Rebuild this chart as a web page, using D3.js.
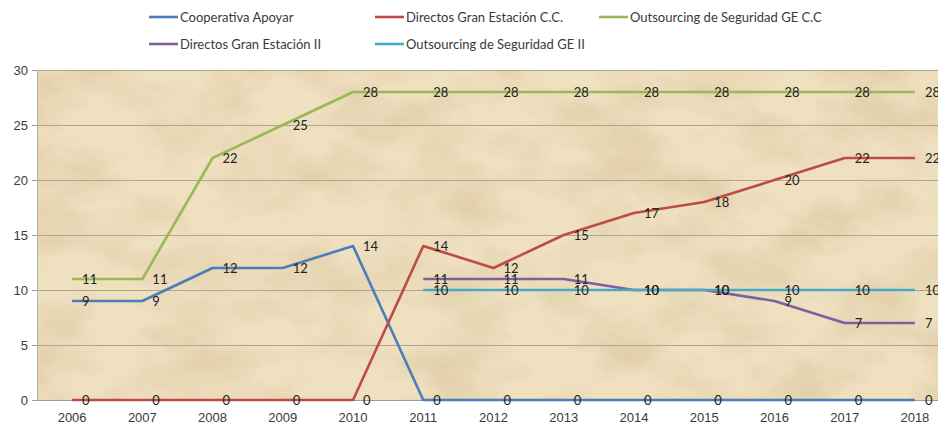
<!DOCTYPE html>
<html>
<head>
<meta charset="utf-8">
<script src="https://cdn.jsdelivr.net/npm/d3@7"></script>
<style>
  body { margin: 0; background: #fff; }
  svg { display: block; font-family: Lato, "Noto Sans", sans-serif; }
</style>
</head>
<body>
<script>
const years = [2006, 2007, 2008, 2009, 2010, 2011, 2012, 2013, 2014, 2015, 2016, 2017, 2018];
const yTicks = [0, 5, 10, 15, 20, 25, 30];

const cooperativaApoyar = [9, 9, 12, 12, 14, 0, 0, 0, 0, 0, 0, 0, 0];
const directosGranCC = [0, 0, 0, 0, 0, 14, 12, 15, 17, 18, 20, 22, 22];
const outsourcingCC = [11, 11, 22, 25, 28, 28, 28, 28, 28, 28, 28, 28, 28];
const directosGranII = [null, null, null, null, null, 11, 11, 11, 10, 10, 9, 7, 7];
const outsourcingII = [null, null, null, null, null, 10, 10, 10, 10, 10, 10, 10, 10];

const seriesNames = [
  'Cooperativa Apoyar',
  'Directos Gran Estación C.C.',
  'Outsourcing de Seguridad GE C.C',
  'Directos Gran Estación II',
  'Outsourcing de Seguridad GE II'
];
const seriesValues = [cooperativaApoyar, directosGranCC, outsourcingCC, directosGranII, outsourcingII];
const seriesColors = ['#4A7EBB', '#BE4B48', '#98B954', '#7D60A0', '#46AAC5'];

const width = 938, height = 428;
const plot = { left: 37, right: 950, top: 70, bottom: 400 };

const svg = d3.select('body')
  .append('svg')
  .attr('width', width)
  .attr('height', height);

// parchment texture
const defs = svg.append('defs');
const filter = defs.append('filter')
  .attr('id', 'parchment')
  .attr('x', 0).attr('y', 0).attr('width', 1).attr('height', 1);
filter.append('feTurbulence')
  .attr('type', 'fractalNoise')
  .attr('baseFrequency', '0.012 0.02')
  .attr('numOctaves', 5)
  .attr('seed', 7)
  .attr('result', 'noise');
filter.append('feColorMatrix')
  .attr('in', 'noise')
  .attr('type', 'matrix')
  .attr('values', '0 0 0 0 0.72  0 0 0 0 0.58  0 0 0 0 0.36  1.6 0 0 0 -0.62');

const xScale = d3.scaleBand()
  .domain(years)
  .range([plot.left, plot.right])
  .paddingInner(0)
  .paddingOuter(0);
const xPos = y => xScale(y) + xScale.bandwidth() / 2;

const yScale = d3.scaleLinear()
  .domain([0, 30])
  .range([plot.bottom, plot.top]);

svg.append('rect')
  .attr('x', plot.left).attr('y', plot.top)
  .attr('width', plot.right - plot.left).attr('height', plot.bottom - plot.top)
  .attr('fill', '#EFE0C0');
svg.append('rect')
  .attr('x', plot.left).attr('y', plot.top)
  .attr('width', plot.right - plot.left).attr('height', plot.bottom - plot.top)
  .attr('filter', 'url(#parchment)');

// gridlines + y axis
const yAxis = d3.axisLeft(yScale)
  .tickValues(yTicks)
  .tickSize(5)
  .tickPadding(4);

svg.append('g')
  .selectAll('line')
  .data(yTicks)
  .enter()
  .append('line')
  .attr('x1', plot.left).attr('x2', plot.right)
  .attr('y1', d => Math.round(yScale(d)) + 0.5)
  .attr('y2', d => Math.round(yScale(d)) + 0.5)
  .attr('stroke', d => d === 0 ? '#9a9a9a' : '#B0A58E')
  .attr('stroke-width', 1);

const yGuide = svg.append('g')
  .attr('transform', `translate(${plot.left},0)`)
  .call(yAxis);
yGuide.select('.domain').attr('stroke', '#b0b0b0');
yGuide.selectAll('.tick line').attr('stroke', '#9a9a9a');
yGuide.selectAll('.tick text')
  .attr('fill', '#3a3a3a')
  .style('font-size', '13px');

// x axis labels
const xAxis = d3.axisBottom(xScale)
  .tickSize(0)
  .tickPadding(13);
const xGuide = svg.append('g')
  .attr('transform', `translate(0,${plot.bottom})`)
  .call(xAxis);
xGuide.select('.domain').remove();
xGuide.selectAll('.tick text')
  .attr('fill', '#3a3a3a')
  .style('font-size', '13px');

// lines
const line = d3.line()
  .defined(d => d.v !== null)
  .x(d => xPos(d.year))
  .y(d => yScale(d.v));

const series = seriesNames.map((name, i) => ({
  name,
  color: seriesColors[i],
  points: years.map((year, j) => ({ year, v: seriesValues[i][j] }))
}));

svg.append('g')
  .selectAll('path')
  .data(series)
  .enter()
  .append('path')
  .attr('d', d => line(d.points))
  .attr('fill', 'none')
  .attr('stroke', d => d.color)
  .attr('stroke-width', 2.6)
  .attr('stroke-linejoin', 'round');

// data labels
const labelGroups = svg.append('g')
  .selectAll('g')
  .data(series)
  .enter()
  .append('g');

labelGroups.selectAll('text')
  .data(d => d.points.filter(p => p.v !== null))
  .enter()
  .append('text')
  .attr('x', d => xPos(d.year) + 10)
  .attr('y', d => yScale(d.v))
  .attr('dy', '0.36em')
  .attr('fill', '#222')
  .style('font-size', '13px')
  .text(d => d.v);

// legend
const legendPos = [
  { x: 149, y: 17 }, { x: 375, y: 17 }, { x: 599, y: 17 },
  { x: 149, y: 44 }, { x: 375, y: 44 }
];
const legend = svg.append('g')
  .selectAll('g')
  .data(series)
  .enter()
  .append('g')
  .attr('transform', (d, i) => `translate(${legendPos[i].x},${legendPos[i].y})`);
legend.append('line')
  .attr('x1', 0).attr('x2', 29)
  .attr('stroke', d => d.color)
  .attr('stroke-width', 2.6);
legend.append('text')
  .attr('x', 31)
  .attr('dy', '0.35em')
  .attr('fill', '#3a3a3a')
  .style('font-size', '13px')
  .text(d => d.name);
</script>
</body>
</html>
